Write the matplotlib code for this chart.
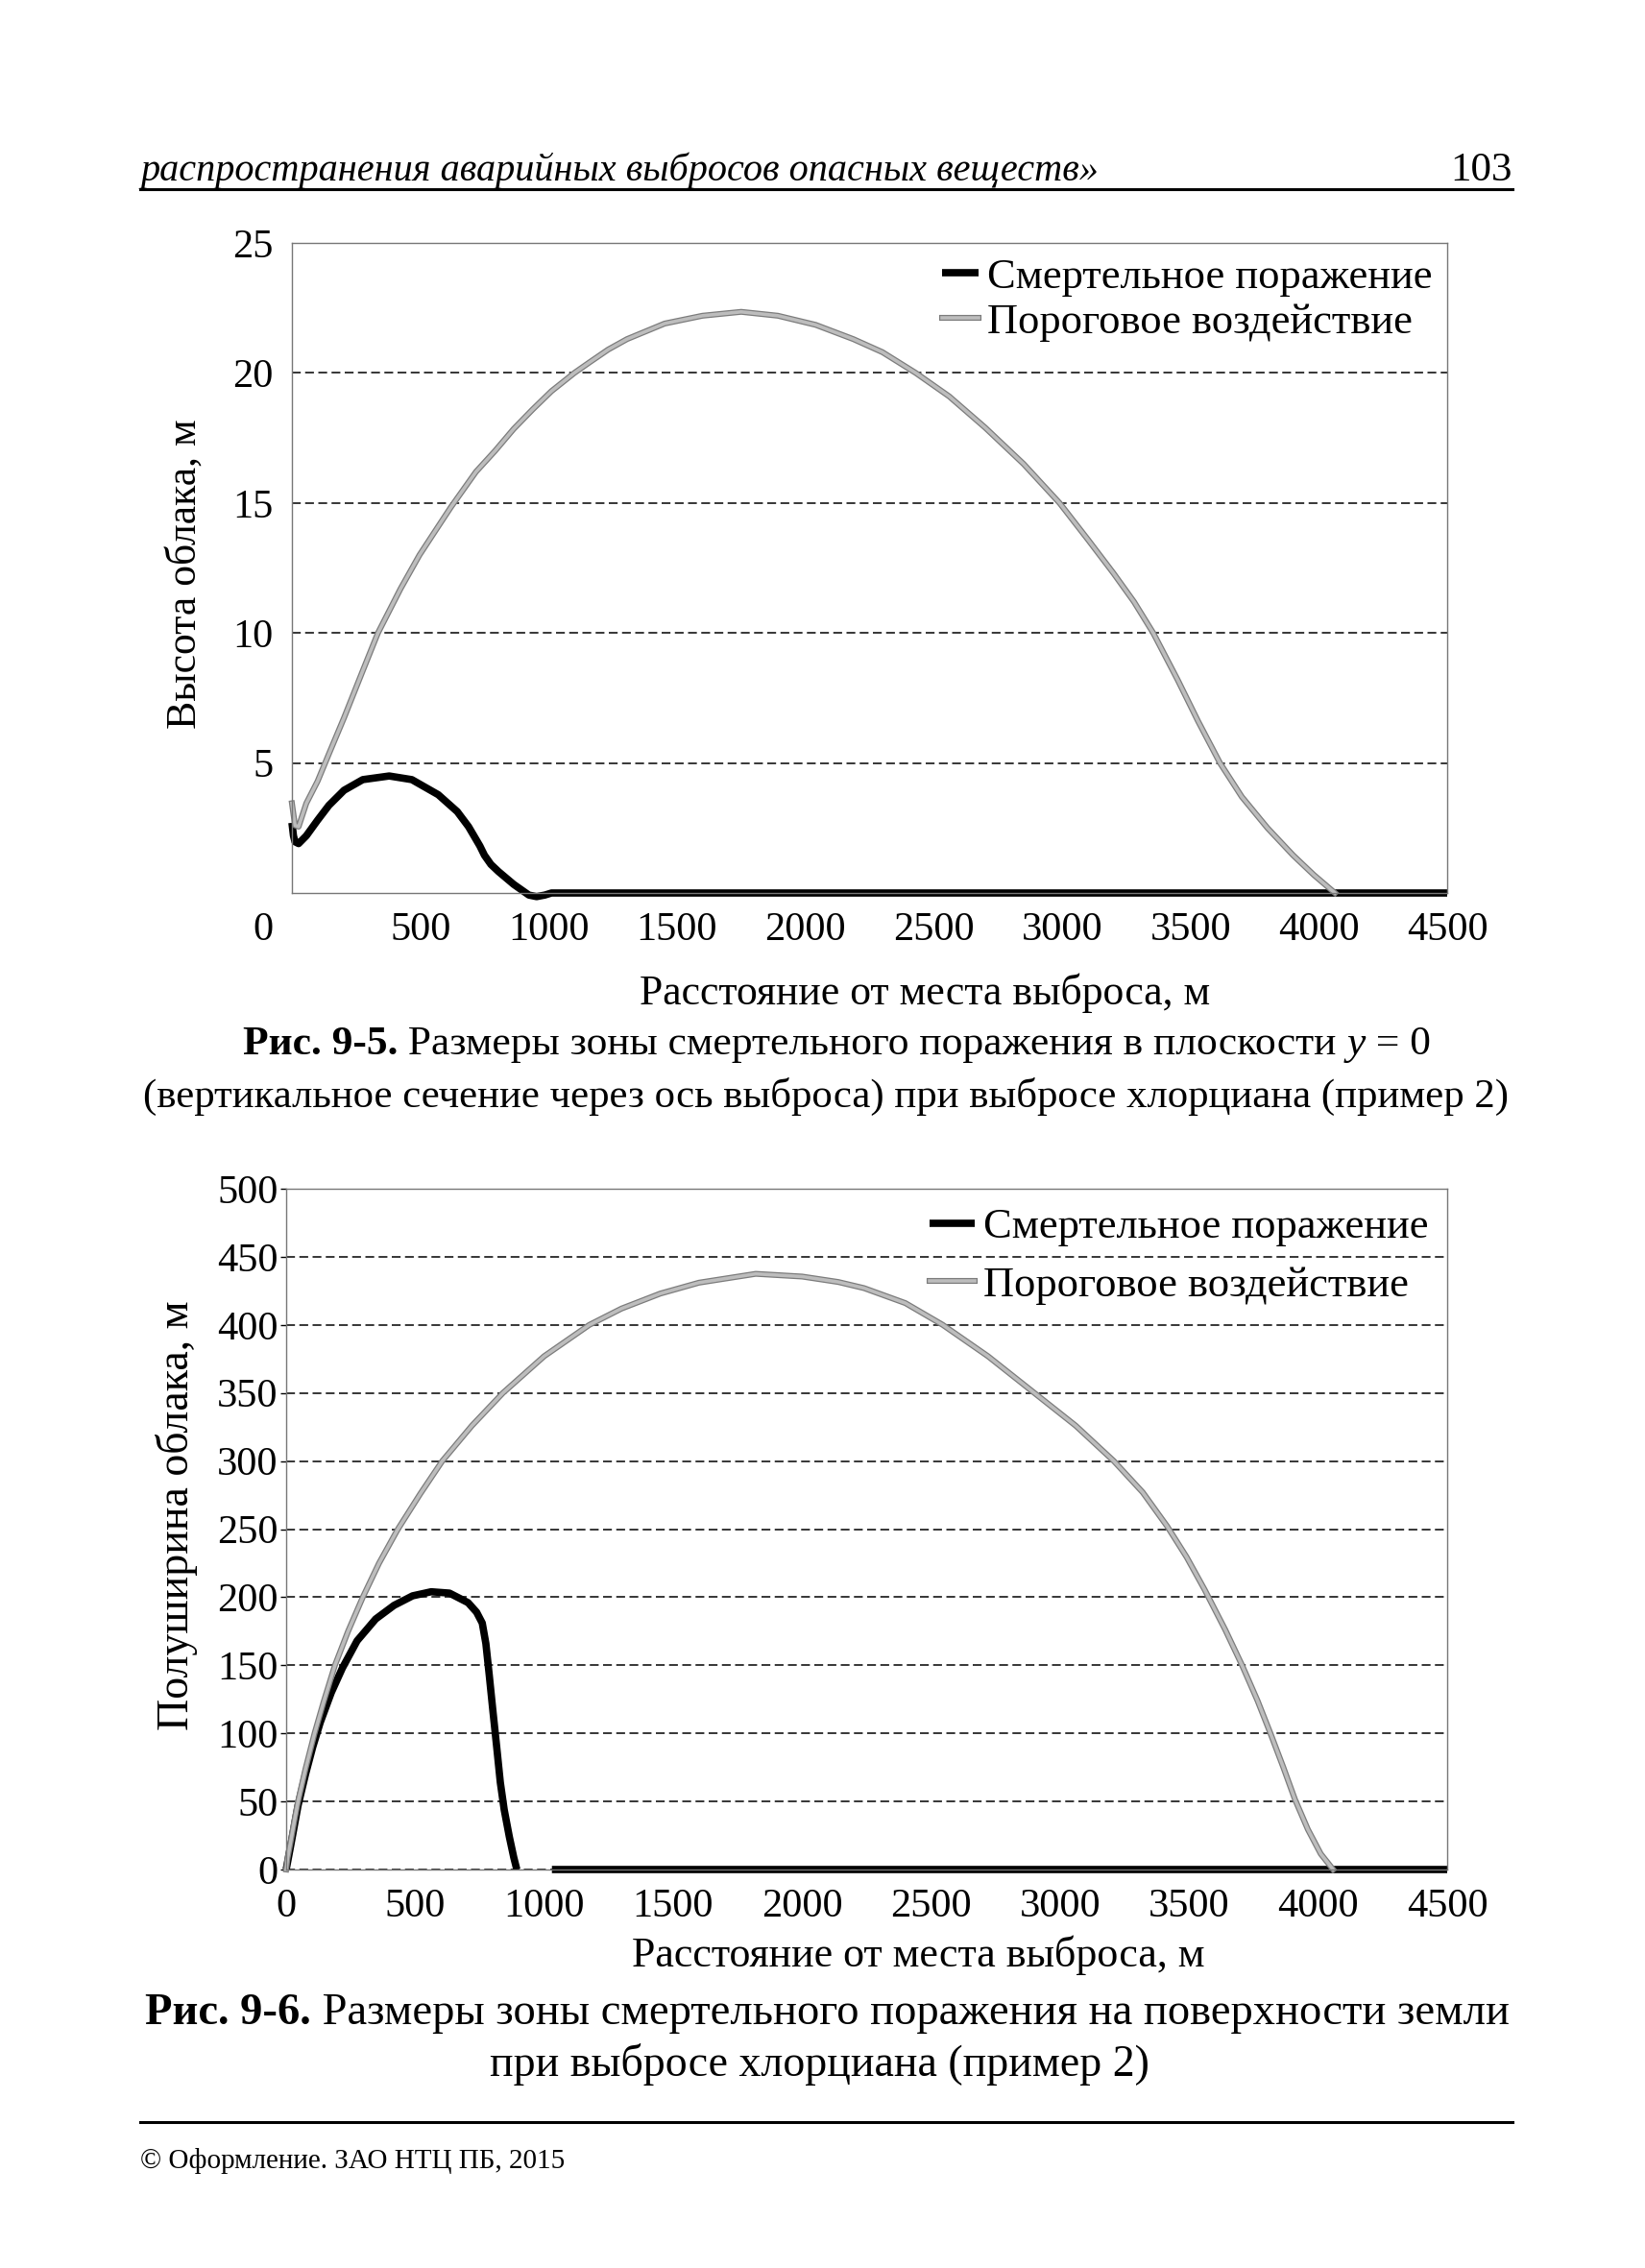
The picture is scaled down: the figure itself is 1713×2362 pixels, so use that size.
import matplotlib.pyplot as plt
import matplotlib.patheffects as pe
from matplotlib.lines import Line2D
from matplotlib.transforms import offset_copy

# page size in pixels
W, H = 1713, 2362

# ---- Рис. 9-5: высота облака (м) vs расстояние (м)
h_lethal_x = [0, 6, 12, 26, 56, 100, 144, 203, 276, 379, 467, 570, 644, 688, 732, 750,
              775, 805, 864, 923, 953, 985, 1011, 1100, 2000, 3000, 4000, 4500]
h_lethal_y = [2.7, 2.2, 1.97, 1.9, 2.2, 2.8, 3.37, 3.95, 4.36, 4.5, 4.36, 3.78, 3.13, 2.55,
              1.81, 1.45, 1.1, 0.82, 0.33, -0.08, -0.14, -0.08, 0.0, 0.0, 0.0, 0.0, 0.0, 0.0]

h_thresh_x = [0, 12, 26, 56, 100, 144, 203, 276, 335, 423, 497, 570, 620, 717, 791, 864,
              938, 1011, 1100, 1158, 1232, 1305, 1452, 1599, 1750, 1893, 2040, 2187, 2300,
              2430, 2560, 2700, 2850, 2990, 3100, 3200, 3280, 3355, 3450, 3530, 3615, 3700,
              3800, 3900, 3980, 4063]
h_thresh_y = [3.45, 2.6, 2.55, 3.45, 4.3, 5.35, 6.74, 8.55, 10.0, 11.7, 13.0, 14.1, 14.85,
              16.2, 17.0, 17.85, 18.6, 19.3, 20.0, 20.4, 20.9, 21.3, 21.9, 22.2, 22.35, 22.2,
              21.85, 21.3, 20.8, 20.0, 19.1, 17.9, 16.5, 15.0, 13.6, 12.3, 11.2, 10.0, 8.2,
              6.6, 5.0, 3.7, 2.5, 1.45, 0.7, 0.0]

# ---- Рис. 9-6: полуширина облака (м) vs расстояние (м)
w_lethal_x = [0, 17, 46, 75, 103, 132, 175, 218, 275, 347, 418, 490, 562, 633, 705, 738,
              760, 774, 787, 801, 816, 830, 845, 865, 882, 894, None, 1030, 2000, 3000,
              4000, 4500]
w_lethal_y = [0, 17, 47, 70, 90, 108, 130, 148, 168, 184, 194, 201, 204, 203, 196, 189,
              181, 166, 143, 117, 90, 64, 44, 24, 9, 0, None, 0, 0, 0, 0, 0]

w_thresh_x = [0, 5, 17, 32, 46, 75, 110, 145, 189, 240, 297, 360, 433, 520, 605, 720, 840,
              1000, 1175, 1300, 1450, 1600, 1820, 2000, 2140, 2240, 2400, 2545, 2720, 2900,
              3060, 3208, 3320, 3415, 3490, 3560, 3640, 3705, 3765, 3815, 3865, 3910, 3960,
              4010, 4058]
w_thresh_y = [0, 8, 20, 36, 50, 74, 100, 123, 150, 175, 200, 225, 250, 276, 300, 326, 350,
              377, 400, 412, 423, 431, 437.5, 435.5, 431.5, 427, 416, 400, 377, 350, 326,
              300, 277, 252, 229.5, 205.5, 176, 150, 124, 100, 75, 51.5, 29.5, 11.5, 0]

x_ticks = [0, 500, 1000, 1500, 2000, 2500, 3000, 3500, 4000, 4500]
h_ticks = [5, 10, 15, 20, 25]
w_ticks = [0, 50, 100, 150, 200, 250, 300, 350, 400, 450, 500]

labels = ['Смертельное поражение', 'Пороговое воздействие']
x_label = 'Расстояние от места выброса, м'

plt.rcParams['font.family'] = ['Liberation Serif', 'DejaVu Serif']

fig = plt.figure(figsize=(W / 100, H / 100), dpi=100)
fig.patch.set_facecolor('white')


def fx(x):
    return x / W


def fy(y):
    return 1 - y / H


def to_nan(v):
    return [float('nan') if a is None else a for a in v]


FS = 30.5
LEG_FS = 32
grey_fx = [pe.Stroke(linewidth=4.4, foreground='#7c7c7c'), pe.Normal()]


def setup(ax, yticks, ylim, tick_len):
    ax.set_xlim(0, 4500)
    ax.set_ylim(*ylim)
    ax.set_xticks(x_ticks)
    ax.set_yticks(yticks)
    ax.tick_params(axis='x', length=0, pad=14, labelsize=FS)
    ax.tick_params(axis='y', length=tick_len, width=1, pad=2 if tick_len else 14,
                   labelsize=FS)
    ax.yaxis.grid(True, color='black', lw=1.1, linestyle=(0, (6, 3)))
    ax.set_axisbelow(True)
    for s in ax.spines.values():
        s.set_color('#777777')
        s.set_linewidth(1.0)


def draw(ax, xl, yl, xt, yt):
    ax.plot(to_nan(xl), to_nan(yl), color='black', lw=5.5, clip_on=False,
            label=labels[0], solid_joinstyle='round', solid_capstyle='butt')
    ax.plot(xt, yt, color='#bdbdbd', lw=2.6, clip_on=False, label=labels[1],
            path_effects=grey_fx)


# ---- chart 1
ax1 = fig.add_axes([fx(304), fy(930), (1507 - 304) / W, (930 - 253) / H])
setup(ax1, h_ticks, (0, 25), 0)
draw(ax1, h_lethal_x, h_lethal_y, h_thresh_x, h_thresh_y)
lab0 = ax1.xaxis.get_major_ticks()[0].label1
lab0.set_transform(offset_copy(lab0.get_transform(), fig=fig, x=-30, y=0, units='dots'))
ax1.legend(loc='upper right', bbox_to_anchor=(1.0, 1.0), frameon=False, fontsize=LEG_FS,
           handlelength=0.85, handletextpad=0.2, labelspacing=0.16, borderpad=0.15,
           borderaxespad=0.2)

# ---- chart 2
ax2 = fig.add_axes([fx(298), fy(1947), (1507 - 298) / W, (1947 - 1238) / H])
setup(ax2, w_ticks, (0, 500), 4)
draw(ax2, w_lethal_x, w_lethal_y, w_thresh_x, w_thresh_y)
ax2.legend(loc='upper right', bbox_to_anchor=(1.0, 1.0), frameon=False, fontsize=LEG_FS,
           handlelength=1.05, handletextpad=0.2, labelspacing=0.46, borderpad=0.25,
           borderaxespad=0.2)

# axis titles
fig.text(fx(193), fy(598), 'Высота облака, м', rotation=90, ha='center', va='center',
         fontsize=31.5)
fig.text(fx(963), fy(1034), x_label, ha='center', va='center', fontsize=31.5)
fig.text(fx(184), fy(1578), 'Полуширина облака, м', rotation=90, ha='center',
         va='center', fontsize=33)
fig.text(fx(956), fy(2036), x_label, ha='center', va='center', fontsize=31.7)

# page header / footer
fig.text(fx(146), fy(178), 'распространения аварийных выбросов опасных веществ»',
         style='italic', ha='left', va='center', fontsize=29)
fig.text(fx(1575), fy(178), '103', ha='right', va='center', fontsize=31)
fig.add_artist(Line2D([fx(146), fx(1575)], [fy(197), fy(197)], lw=2.2, color='black',
                      transform=fig.transFigure))
fig.add_artist(Line2D([fx(146), fx(1575)], [fy(2210), fy(2210)], lw=2.2, color='black',
                      transform=fig.transFigure))
fig.text(fx(146), fy(2251), '© Оформление. ЗАО НТЦ ПБ, 2015', ha='left', va='center',
         fontsize=21)

# captions (mixed styles chained one after another)
bg = fig.add_axes([0, 0, 1, 1], zorder=-1)
bg.axis('off')


def caption(x, y, parts, size):
    prev = None
    for txt, kw in parts:
        if prev is None:
            prev = bg.text(fx(x), fy(y), txt, ha='left', va='center', fontsize=size,
                           transform=fig.transFigure, **kw)
        else:
            prev = bg.annotate(txt, xy=(1, 0), xycoords=prev, ha='left', va='bottom',
                               fontsize=size, **kw)


caption(253, 1088, [('Рис. 9-5.', {'weight': 'bold'}),
                    (' Размеры зоны смертельного поражения в плоскости ', {}),
                    ('y', {'style': 'italic'}),
                    (' = 0', {})], 31.3)
fig.text(fx(860), fy(1142),
         '(вертикальное сечение через ось выброса) при выбросе хлорциана (пример 2)',
         ha='center', va='center', fontsize=30.8)
caption(151, 2097, [('Рис. 9-6.', {'weight': 'bold'}),
                    (' Размеры зоны смертельного поражения на поверхности земли', {})],
        33.5)
fig.text(fx(853), fy(2150), 'при выбросе хлорциана (пример 2)', ha='center', va='center',
         fontsize=33)

fig.savefig('out.png', dpi=100, facecolor='white')
